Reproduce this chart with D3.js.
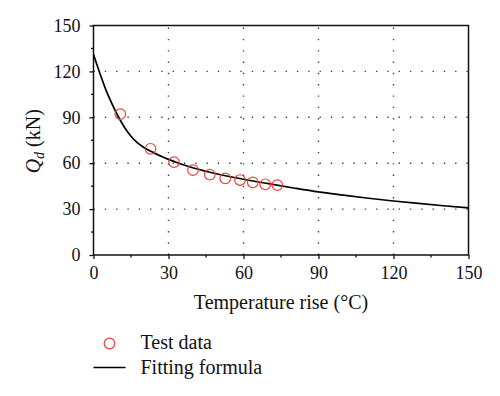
<!DOCTYPE html>
<html>
<head>
<meta charset="utf-8">
<script src="https://cdn.jsdelivr.net/npm/d3@7"></script>
<style>
  html, body { margin: 0; padding: 0; background: #fff; }
  svg { display: block; }
  svg text { font-family: "Liberation Serif", "Times New Roman", "DejaVu Serif", serif; }
</style>
</head>
<body>
<div id="chart"></div>
<script>
// ---- data ----
const testTemp = [10.7, 22.8, 32.2, 39.8, 46.5, 52.7, 58.6, 63.7, 68.7, 73.5];
const testQd   = [92.1, 69.4, 60.7, 55.5, 52.5, 50.1, 49.0, 47.5, 46.2, 45.7];

const fitTemp = [0, 2.5, 5, 7.5, 10, 12.5, 15, 17.5, 20, 22.5, 25, 27.5, 30, 35, 40, 50, 60, 70, 80, 90, 100, 110, 120, 130, 140, 150];
const fitQd   = [131, 119, 107.8, 98.5, 90.2, 83.2, 77.6, 73.4, 70.4, 68.1, 66.1, 64.2, 62.5, 59.5, 56.9, 52.8, 49.5, 46.6, 43.8, 41.2, 39.1, 37.1, 35.3, 33.7, 32.2, 30.8];

const xTicks = [0, 30, 60, 90, 120, 150];
const yTicks = [0, 30, 60, 90, 120, 150];
const minorTicks = [15, 45, 75, 105, 135];

// ---- layout ----
const W = 500, H = 396;
const M = { left: 93.5, right: 31.5, top: 25.5, bottom: 141 };

const svg = d3.select("#chart").append("svg")
  .attr("width", W).attr("height", H);

const x = d3.scaleLinear().domain([0, 150]).range([M.left, W - M.right]);
const y = d3.scaleLinear().domain([0, 150]).range([H - M.bottom, M.top]);

// --- dotted grid ---
const grid = svg.append("g")
  .attr("stroke", "#444")
  .attr("stroke-width", 1.4)
  .attr("stroke-dasharray", "1.4,9.9");

grid.selectAll("line.gx")
  .data(xTicks.slice(1, -1))
  .join("line")
  .attr("x1", d => x(d)).attr("x2", d => x(d))
  .attr("y1", y(0)).attr("y2", y(150));

grid.selectAll("line.gy")
  .data(yTicks.slice(1, -1))
  .join("line")
  .attr("class", "gy")
  .attr("x1", x(0)).attr("x2", x(150))
  .attr("y1", d => y(d)).attr("y2", d => y(d));

// --- axes ---
const xAxis = svg.append("g")
  .attr("transform", `translate(0,${y(0)})`)
  .call(d3.axisBottom(x).tickValues(xTicks).tickSize(4).tickPadding(7));
const yAxis = svg.append("g")
  .attr("transform", `translate(${x(0)},0)`)
  .call(d3.axisLeft(y).tickValues(yTicks).tickSize(4).tickPadding(9));

[xAxis, yAxis].forEach(g => {
  g.attr("font-family", null).attr("font-size", null);
  g.select(".domain").remove();
  g.selectAll("line").attr("stroke", "#111").attr("stroke-width", 1.3);
  g.selectAll("text")
    .style("font-size", "18px")
    .attr("fill", "#111");
});

// minor ticks
svg.append("g").selectAll("line")
  .data(minorTicks)
  .join("line")
  .attr("x1", d => x(d)).attr("x2", d => x(d))
  .attr("y1", y(0)).attr("y2", y(0) + 2.5)
  .attr("stroke", "#111").attr("stroke-width", 1.3);
svg.append("g").selectAll("line")
  .data(minorTicks)
  .join("line")
  .attr("x1", x(0)).attr("x2", x(0) - 2.5)
  .attr("y1", d => y(d)).attr("y2", d => y(d))
  .attr("stroke", "#111").attr("stroke-width", 1.3);

// frame
svg.append("rect")
  .attr("x", x(0)).attr("y", y(150))
  .attr("width", x(150) - x(0)).attr("height", y(0) - y(150))
  .attr("fill", "none")
  .attr("stroke", "#111")
  .attr("stroke-width", 1.5);

// --- fitted curve ---
const line = d3.line()
  .x((d, i) => x(fitTemp[i]))
  .y(d => y(d))
  .curve(d3.curveMonotoneX);

svg.append("path")
  .datum(fitQd)
  .attr("d", line)
  .attr("fill", "none")
  .attr("stroke", "#000")
  .attr("stroke-width", 1.7);

// --- test data ---
svg.append("g").selectAll("circle")
  .data(testQd)
  .join("circle")
  .attr("cx", (d, i) => x(testTemp[i]))
  .attr("cy", d => y(d))
  .attr("r", 5.3)
  .attr("fill", "none")
  .attr("stroke", "#e8453c")
  .attr("stroke-width", 1.2);

// --- axis titles ---
svg.append("text")
  .attr("x", (x(0) + x(150)) / 2)
  .attr("y", 309)
  .attr("text-anchor", "middle")
  .style("font-size", "20px")
  .attr("fill", "#111")
  .text("Temperature rise (°C)");

const yTitle = svg.append("text")
  .attr("transform", `translate(40,${(y(0) + y(150)) / 2 + 1}) rotate(-90)`)
  .attr("text-anchor", "middle")
  .style("font-size", "20px")
  .attr("fill", "#111");
yTitle.append("tspan").attr("font-style", "italic").text("Q");
yTitle.append("tspan").attr("font-style", "italic").style("font-size", "14px").attr("dy", 4).text("d");
yTitle.append("tspan").attr("dy", -4).text(" (kN)");

// --- legend ---
const legend = svg.append("g").attr("fill", "#111");
legend.append("circle")
  .attr("cx", 109.5).attr("cy", 343.5).attr("r", 5.3)
  .attr("fill", "none").attr("stroke", "#e8453c").attr("stroke-width", 1.2);
legend.append("text").attr("x", 140.5).attr("y", 349).style("font-size", "20px").text("Test data");
legend.append("line")
  .attr("x1", 93.5).attr("x2", 125.5)
  .attr("y1", 367.5).attr("y2", 367.5)
  .attr("stroke", "#000").attr("stroke-width", 1.5);
legend.append("text").attr("x", 140.5).attr("y", 373.5).style("font-size", "20px").text("Fitting formula");
</script>
</body>
</html>
